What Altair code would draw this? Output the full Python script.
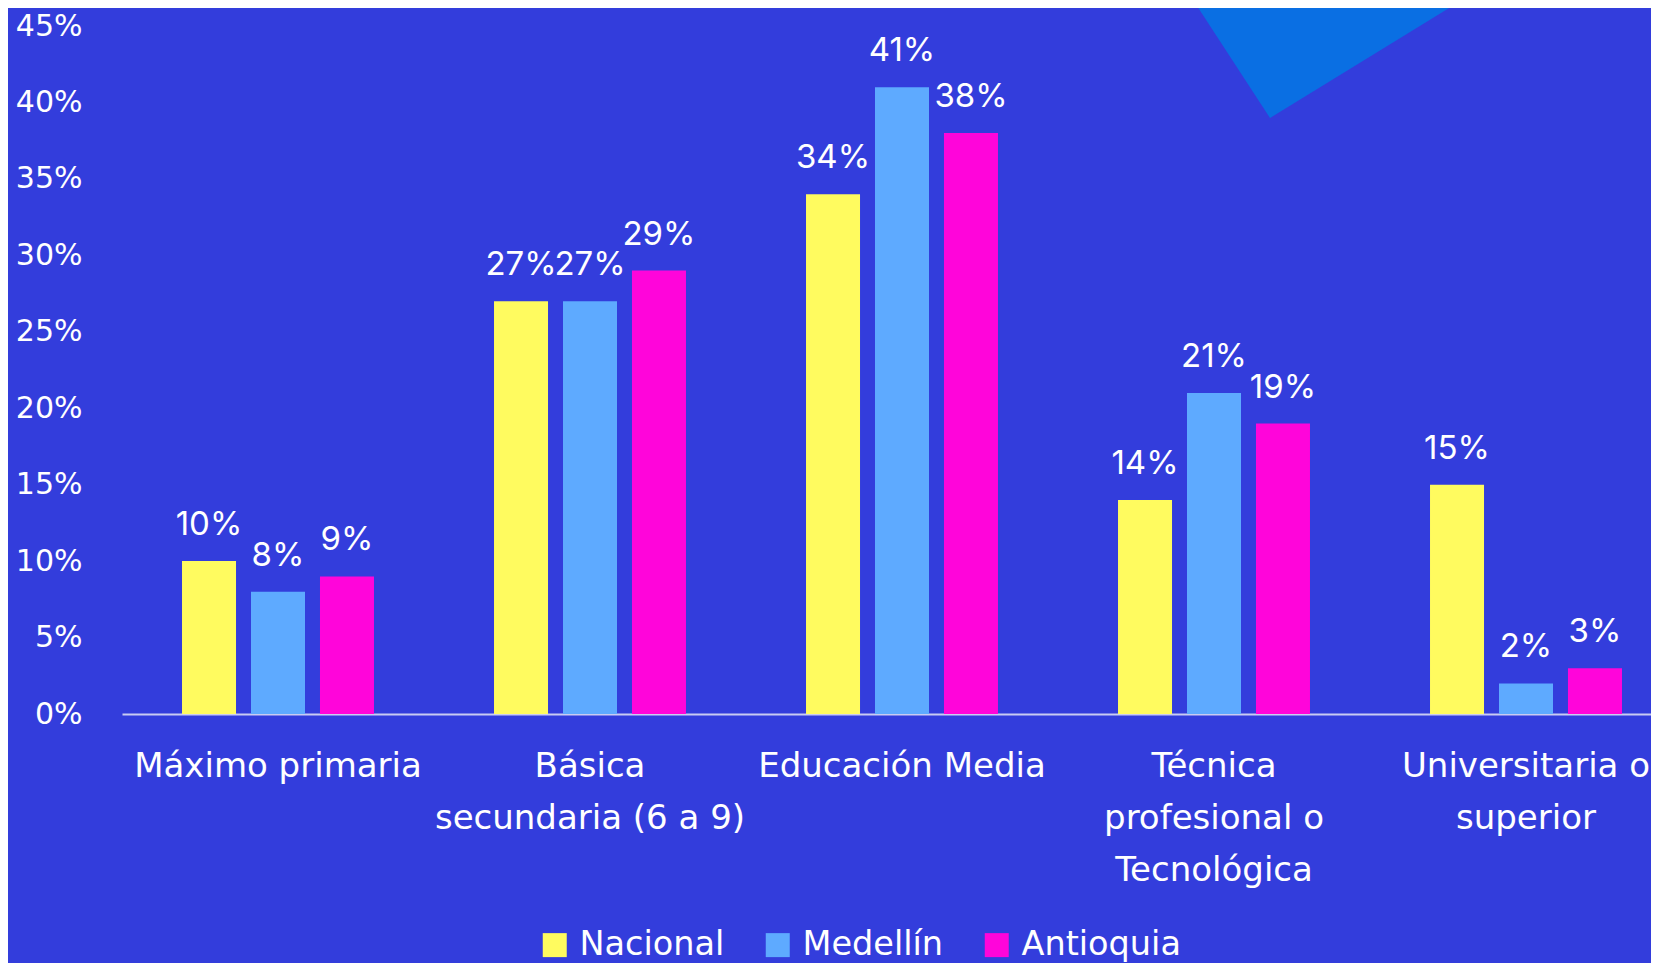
import altair as alt
import pandas as pd

# ---- data ----
categories = [
    "Máximo primaria",
    "Básica secundaria (6 a 9)",
    "Educación Media",
    "Técnica profesional o Tecnológica",
    "Universitaria o superior",
]
category_lines = [
    ["Máximo primaria"],
    ["Básica", "secundaria (6 a 9)"],
    ["Educación Media"],
    ["Técnica", "profesional o", "Tecnológica"],
    ["Universitaria o", "superior"],
]
series = ["Nacional", "Medellín", "Antioquia"]
nacional = [10, 27, 34, 14, 15]
medellin = [8, 27, 41, 21, 2]
antioquia = [9, 29, 38, 19, 3]
y_ticks = [0, 5, 10, 15, 20, 25, 30, 35, 40, 45]

colors = ["#fffb5f", "#5eaaff", "#ff05da"]
bg = "#333ddc"
tri_color = "#0a6fe3"

rows = []
for s, vals in zip(series, [nacional, medellin, antioquia]):
    for c, v in zip(categories, vals):
        rows.append({"Nivel": c, "Serie": s, "Valor": v})
df = pd.DataFrame(rows)

cats_js = "[" + ",".join("'" + c + "'" for c in categories) + "]"
lines_js = "[" + ",".join("[" + ",".join("'" + l + "'" for l in ls) + "]" for ls in category_lines) + "]"
label_expr = f"{lines_js}[indexof({cats_js}, datum.label)]"

W, H = 1529, 688

x_enc = alt.X(
    "Nivel:N",
    sort=categories,
    scale=alt.Scale(domain=categories, range=[0, 1560], paddingInner=0, paddingOuter=0),
    axis=alt.Axis(
        title=None,
        labelAngle=0,
        labelExpr=label_expr,
        labelFont="DejaVu Sans",
        labelFontSize=34,
        labelColor="white",
        labelPadding=35,
        labelLineHeight=52,
        labelLimit=600,
        labelOverlap=False,
        ticks=False,
        domainColor="#c9ccf2",
        domainWidth=2,
    ),
)
xo_enc = alt.XOffset("Serie:N", sort=series, scale=alt.Scale(paddingInner=0.217, paddingOuter=0.87))
y_enc = alt.Y(
    "Valor:Q",
    scale=alt.Scale(domain=[0, 45], nice=False),
    axis=alt.Axis(
        title=None,
        values=y_ticks,
        labelExpr="datum.value + '%'",
        grid=False,
        domain=False,
        ticks=False,
        labelFont="DejaVu Sans",
        labelFontSize=30,
        labelColor="white",
        labelPadding=40,
        labelOffset=0,
    ),
)

base = alt.Chart(df)

bars = base.mark_bar().encode(
    x=x_enc,
    xOffset=xo_enc,
    y=y_enc,
    color=alt.Color(
        "Serie:N",
        sort=series,
        scale=alt.Scale(domain=series, range=colors),
        legend=alt.Legend(
            orient="none",
            direction="horizontal",
            legendX=416,
            legendY=902,
            title=None,
            symbolType="square",
            symbolSize=576,
            symbolStrokeWidth=0,
            symbolOpacity=1,
            labelFont="DejaVu Sans",
            labelFontSize=33.5,
            labelColor="white",
            labelOffset=8,
            columnPadding=36,
            padding=0,
        ),
    ),
)

labels = base.transform_calculate(lbl="datum.Valor + '%'").mark_text(
    dy=-26, baseline="alphabetic", font="Inter", fontSize=33, color="white"
).encode(
    x=alt.X("Nivel:N", sort=categories),
    xOffset=alt.XOffset("Serie:N", sort=series),
    y=alt.Y("Valor:Q"),
    text="lbl:N",
)

# decorative triangle at the top right (background ornament)
triangle = alt.Chart(pd.DataFrame({"k": [0]})).mark_point(
    shape="M-86,-132L215,-132L0,0Z", size=4, filled=True, color=tri_color, opacity=1, strokeWidth=0
).encode(x=alt.value(1148), y=alt.value(92))

chart = alt.layer(triangle, bars, labels).properties(
    width=W,
    height=H,
    autosize=alt.AutoSizeParams(type="none"),
    padding={"left": 114, "top": 18, "right": 0, "bottom": 257},
).configure(background=bg).configure_view(stroke=None)

chart.save("out.html", embed_options={"renderer": "svg", "actions": False})
